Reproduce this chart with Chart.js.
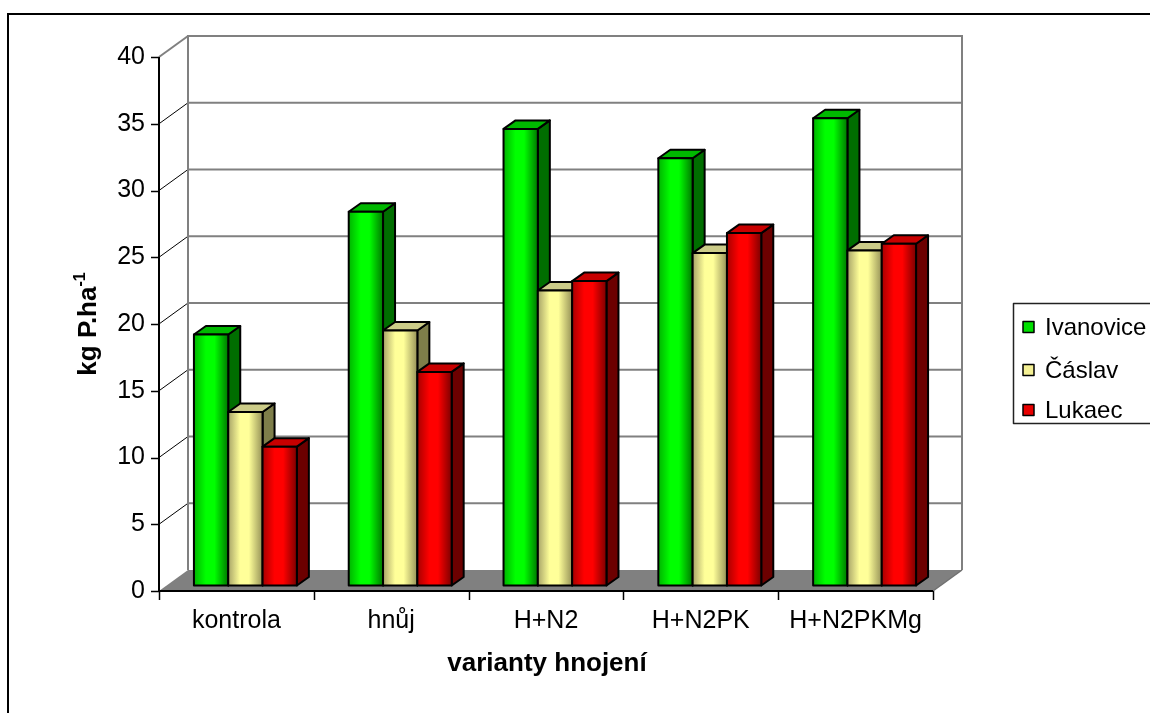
<!DOCTYPE html>
<html>
<head>
<meta charset="utf-8">
<title>varianty hnojení</title>
<script src="https://cdn.jsdelivr.net/npm/chart.js@4.4.1/dist/chart.umd.min.js"></script>
<style>
  html, body { margin: 0; padding: 0; background: #ffffff; }
  canvas { display: block; }
</style>
</head>
<body>
<canvas id="chart" width="1150" height="713"></canvas>
<script>
// ---- data ----
const categories = ['kontrola', 'hnůj', 'H+N2', 'H+N2PK', 'H+N2PKMg'];
const seriesNames = ['Ivanovice', 'Čáslav', 'Lukaec'];
const ivanovice = [18.8, 28.0, 34.2, 32.0, 35.0];
const caslav = [13.0, 19.1, 22.1, 24.9, 25.1];
const lukaec = [10.4, 16.0, 22.8, 26.4, 25.6];
const yMin = 0;
const yMax = 40;
const yStep = 5;
const xTitle = 'varianty hnojení';
const yTitleMain = 'kg P.ha';
const yTitleSup = '-1';

// ---- styling ----
const FONT = "'Liberation Sans', Arial, Helvetica, sans-serif";
const palette = [
  { face: '#00ff00', edgeL: '#00b400', edgeR: '#007800', top: '#00b800', side: '#006e00', key: '#00e000' },
  { face: '#ffff99', edgeL: '#a8a468', edgeR: '#969258', top: '#cccc88', side: '#7e7e4a', key: '#f4f094' },
  { face: '#ff0000', edgeL: '#a80000', edgeR: '#7c0000', top: '#c80000', side: '#6c0000', key: '#e80000' }
];
// depth of the plot box and of the bars (screen offsets)
const WALL_DX = 29, WALL_DY = -21;
const BAR_OX = 9, BAR_OY = -5.5;
const BAR_DX = 12, BAR_DY = -8.5;

function poly(ctx, pts, fill, stroke, lw) {
  ctx.beginPath();
  ctx.moveTo(pts[0][0], pts[0][1]);
  for (let i = 1; i < pts.length; i++) ctx.lineTo(pts[i][0], pts[i][1]);
  ctx.closePath();
  if (fill) { ctx.fillStyle = fill; ctx.fill(); }
  if (stroke) { ctx.strokeStyle = stroke; ctx.lineWidth = lw; ctx.stroke(); }
}
function line(ctx, x1, y1, x2, y2, color, lw) {
  ctx.beginPath();
  ctx.moveTo(x1, y1);
  ctx.lineTo(x2, y2);
  ctx.strokeStyle = color;
  ctx.lineWidth = lw;
  ctx.stroke();
}

// white page and outer frame
const framePlugin = {
  id: 'frame',
  beforeDraw(chart) {
    const ctx = chart.ctx;
    ctx.save();
    ctx.fillStyle = '#ffffff';
    ctx.fillRect(0, 0, chart.width, chart.height);
    ctx.beginPath();
    ctx.moveTo(8, chart.height + 2);
    ctx.lineTo(8, 14);
    ctx.lineTo(chart.width + 2, 14);
    ctx.strokeStyle = '#000';
    ctx.lineWidth = 2;
    ctx.stroke();
    ctx.restore();
  }
};

// walls, floor, axes and shaded 3D columns
const scenePlugin = {
  id: 'scene3d',
  beforeDatasetsDraw(chart) {
    const ctx = chart.ctx;
    const xs = chart.scales.x, ys = chart.scales.y;
    const L = chart.chartArea.left, R = chart.chartArea.right;
    const y0 = ys.getPixelForValue(yMin), yTop = ys.getPixelForValue(yMax);
    ctx.save();
    ctx.lineCap = 'butt';

    // floor
    poly(ctx, [[L, y0], [R, y0], [R + WALL_DX, y0 + WALL_DY], [L + WALL_DX, y0 + WALL_DY]], '#808080');

    // back wall gridlines and side wall diagonals
    for (let v = yMin + yStep; v <= yMax; v += yStep) {
      const py = ys.getPixelForValue(v);
      line(ctx, L + WALL_DX, py + WALL_DY, R + WALL_DX, py + WALL_DY, '#808080', 2);
      if (v === yMax) line(ctx, L, py, L + WALL_DX, py + WALL_DY, '#808080', 2);
      else line(ctx, L, py, L + WALL_DX, py + WALL_DY, '#000', 1);
    }
    // back wall edges
    line(ctx, L + WALL_DX, yTop + WALL_DY - 1, L + WALL_DX, y0 + WALL_DY, '#808080', 2);
    line(ctx, R + WALL_DX, yTop + WALL_DY - 1, R + WALL_DX, y0 + WALL_DY, '#808080', 2);
    line(ctx, R, y0, R + WALL_DX, y0 + WALL_DY, '#707070', 1.5);

    // value axis with ticks
    line(ctx, L, yTop, L, y0 + 1, '#000', 2);
    for (let v = yMin; v <= yMax; v += yStep) {
      const py = Math.round(ys.getPixelForValue(v)) + 0.5;
      line(ctx, L - 8, py, L, py, '#000', 1.5);
    }
    // category axis with ticks between groups
    line(ctx, L - 1, y0, R, y0, '#000', 2);
    const half = (xs.getPixelForValue(1) - xs.getPixelForValue(0)) / 2;
    for (let i = 0; i <= categories.length; i++) {
      const px = Math.round(xs.getPixelForValue(i) - half) + 0.5;
      line(ctx, px, y0, px, y0 + 9, '#000', 1.5);
    }

    // columns, left to right inside each group
    ctx.lineJoin = 'round';
    for (let c = 0; c < categories.length; c++) {
      chart.data.datasets.forEach((ds, d) => {
        const el = chart.getDatasetMeta(d).data[c];
        const pal = palette[d];
        const w = el.width;
        const xl = el.x - w / 2 + BAR_OX, xr = el.x + w / 2 + BAR_OX;
        const yt = el.y + BAR_OY, yb = el.base + BAR_OY;
        const g = ctx.createLinearGradient(xl, 0, xr, 0);
        g.addColorStop(0, pal.edgeL);
        g.addColorStop(0.35, pal.face);
        g.addColorStop(0.6, pal.face);
        g.addColorStop(1, pal.edgeR);
        poly(ctx, [[xr, yt], [xr + BAR_DX, yt + BAR_DY], [xr + BAR_DX, yb + BAR_DY], [xr, yb]], pal.side, '#000', 2);
        poly(ctx, [[xl, yt], [xr, yt], [xr + BAR_DX, yt + BAR_DY], [xl + BAR_DX, yt + BAR_DY]], pal.top, '#000', 2);
        poly(ctx, [[xl, yt], [xr, yt], [xr, yb], [xl, yb]], g, '#000', 2);
      });
    }

    // axis titles
    ctx.fillStyle = '#000';
    ctx.font = 'bold 26px ' + FONT;
    ctx.textAlign = 'center';
    ctx.textBaseline = 'middle';
    ctx.fillText(xTitle, (L + R) / 2 + 1, 664);

    ctx.save();
    ctx.translate(96, (yTop + y0) / 2);
    ctx.rotate(-Math.PI / 2);
    ctx.textAlign = 'left';
    ctx.textBaseline = 'alphabetic';
    ctx.font = 'bold 26px ' + FONT;
    const wMain = ctx.measureText(yTitleMain).width;
    ctx.font = 'bold 16px ' + FONT;
    const wSup = ctx.measureText(yTitleSup).width;
    const start = -(wMain + wSup) / 2;
    ctx.font = 'bold 26px ' + FONT;
    ctx.fillText(yTitleMain, start, 0);
    ctx.font = 'bold 16px ' + FONT;
    ctx.fillText(yTitleSup, start + wMain, -11);
    ctx.restore();

    // legend
    ctx.strokeStyle = '#222';
    ctx.lineWidth = 1.5;
    ctx.strokeRect(1013.5, 303.5, 140, 120);
    const itemY = [327, 370, 410];
    ctx.font = '24px ' + FONT;
    ctx.textAlign = 'left';
    ctx.textBaseline = 'middle';
    seriesNames.forEach((name, i) => {
      const yy = itemY[i];
      ctx.fillStyle = palette[i].key;
      ctx.fillRect(1023, yy - 5.5, 11, 11);
      ctx.strokeStyle = '#000';
      ctx.lineWidth = 1.5;
      ctx.strokeRect(1023, yy - 5.5, 11, 11);
      ctx.fillStyle = '#000';
      ctx.fillText(name, 1045, yy + 1);
    });

    ctx.restore();
    return false;
  }
};

const tickFont = { family: FONT, size: 25 };

new Chart(document.getElementById('chart'), {
  type: 'bar',
  data: {
    labels: categories,
    datasets: [
      { label: seriesNames[0], data: ivanovice, backgroundColor: palette[0].face },
      { label: seriesNames[1], data: caslav, backgroundColor: palette[1].face },
      { label: seriesNames[2], data: lukaec, backgroundColor: palette[2].face }
    ]
  },
  options: {
    responsive: false,
    animation: false,
    devicePixelRatio: 1,
    categoryPercentage: 0.665,
    barPercentage: 1.0,
    layout: { padding: { left: 0, top: 57, right: 217, bottom: 36 } },
    plugins: {
      legend: { display: false },
      tooltip: { enabled: false }
    },
    scales: {
      x: {
        grid: { display: false, drawTicks: true, tickLength: 8 },
        border: { display: false },
        ticks: { padding: 7, color: '#000', font: tickFont, maxRotation: 0, autoSkip: false },
        afterFit(scale) { scale.height = 86; }
      },
      y: {
        min: yMin,
        max: yMax,
        grid: { display: false, drawTicks: true, tickLength: 8 },
        border: { display: false },
        ticks: { stepSize: yStep, padding: 6, color: '#000', font: tickFont },
        afterFit(scale) { scale.width = 159; }
      }
    }
  },
  plugins: [framePlugin, scenePlugin]
});
</script>
</body>
</html>
